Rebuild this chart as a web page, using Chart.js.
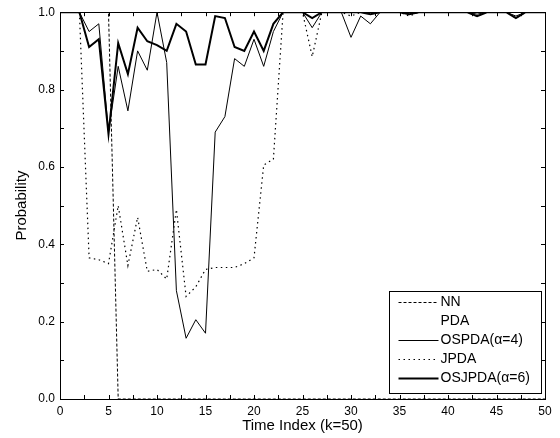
<!DOCTYPE html>
<html>
<head>
<meta charset="utf-8">
<script src="https://cdn.jsdelivr.net/npm/chart.js@4.4.1/dist/chart.umd.min.js"></script>
<style>
  html, body { margin: 0; padding: 0; background: #fff; }
  #wrap { width: 560px; height: 438px; }
</style>
</head>
<body>
<div id="wrap"><canvas id="chart" width="560" height="438"></canvas></div>
<script>
// Données (probabilité par instant k)
const timeIndex = [0,1,2,3,4,5,6,7,8,9,10,11,12,13,14,15,16,17,18,19,20,21,22,23,24,25,
  26,27,28,29,30,31,32,33,34,35,36,37,38,39,40,41,42,43,44,45,46,47,48,49,50];

const nnProb = [1,1,1,1,1,1, 0,0,0,0,0,0,0,0,0,0, 0,0,0,0,0,0,0,0,0,0,
  0,0,0,0,0,0,0,0,0,0, 0,0,0,0,0,0,0,0,0,0, 0,0,0,0,0];

const pdaProb = [];

const ospdaProb = [1,1,1,0.95,0.97,0.69,0.86,0.745,0.90,0.85,
  1.0,0.87,0.28,0.157,0.205,0.17,0.69,0.73,0.88,0.86,
  0.93,0.86,0.95,1,1,1,0.96,1,1,1,
  0.935,0.99,0.97,1,1,1,0.995,1,1,1,
  1,1,1,0.995,1,1,1,0.99,1,1,
  1];

const jpdaProb = [1,1,1,0.365,0.36,0.35,0.50,0.345,0.47,0.33,
  0.335,0.31,0.49,0.265,0.29,0.335,0.34,0.34,0.34,0.35,
  0.365,0.605,0.62,1,1,1,0.885,1,1,1,
  0.99,1,1,1,1,1,0.99,1,1,1,
  1,1,1,0.99,1,1,1,0.985,1,1,
  1];

const osjpdaProb = [1,1,1,0.91,0.93,0.685,0.92,0.84,0.96,0.925,
  0.915,0.90,0.97,0.95,0.865,0.865,0.99,0.985,0.91,0.90,
  0.95,0.90,0.97,1,1,1,0.985,1,1,1,
  1,1,0.995,1,1,1,0.995,1,1,1,
  1,1,1,0.99,1,1,1,0.985,1,1,
  1];

const seriesLabels = ['NN', 'PDA', 'OSPDA(\u03b1=4)', 'JPDA', 'OSJPDA(\u03b1=6)'];
const xTitle = 'Time Index (k=50)';
const yTitle = 'Probability';

const FONT = '"Liberation Sans", Arial, sans-serif';

function toPoints(values) {
  return values.map((v, i) => ({ x: timeIndex[i], y: v }));
}

// Légende et cadre façon MATLAB (ticks vers l'intérieur)
const boxPlugin = {
  id: 'boxPlugin',
  afterDraw(chart) {
    const ctx = chart.ctx;
    const a = chart.chartArea;
    const xs = chart.scales.x;
    const ys = chart.scales.y;
    ctx.save();
    ctx.strokeStyle = '#000';
    ctx.lineWidth = 1;
    ctx.setLineDash([]);
    ctx.strokeRect(Math.round(a.left) + 0.5, Math.round(a.top) + 0.5,
      Math.round(a.right - a.left), Math.round(a.bottom - a.top));

    const tl = 4;
    ctx.beginPath();
    xs.ticks.forEach(t => {
      const px = Math.round(xs.getPixelForValue(t.value)) + 0.5;
      ctx.moveTo(px, a.bottom); ctx.lineTo(px, a.bottom - tl);
      ctx.moveTo(px, a.top); ctx.lineTo(px, a.top + tl);
    });
    ys.ticks.forEach(t => {
      const py = Math.round(ys.getPixelForValue(t.value)) + 0.5;
      ctx.moveTo(a.left, py); ctx.lineTo(a.left + tl, py);
      ctx.moveTo(a.right, py); ctx.lineTo(a.right - tl, py);
    });
    ctx.stroke();

    // légende
    const w = 152, h = 102;
    const bx = Math.round(a.right - 4 - w) + 0.5;
    const by = Math.round(a.bottom - 6 - h) + 0.5;
    ctx.fillStyle = '#fff';
    ctx.fillRect(bx, by, w, h);
    ctx.strokeRect(bx, by, w, h);
    ctx.font = '14px ' + FONT;
    ctx.textBaseline = 'middle';
    chart.data.datasets.forEach((ds, i) => {
      const y = Math.round(by + 10 + i * 19) + 0.5;
      ctx.beginPath();
      ctx.strokeStyle = ds.borderColor;
      ctx.lineWidth = ds.borderWidth;
      ctx.setLineDash(ds.borderDash || []);
      ctx.moveTo(bx + 9, y);
      ctx.lineTo(bx + 49, y);
      ctx.stroke();
      ctx.fillStyle = '#000';
      ctx.fillText(ds.label, bx + 51, y);
    });
    ctx.restore();
  }
};

const chart = new Chart(document.getElementById('chart'), {
  type: 'line',
  data: {
    datasets: [
      { label: seriesLabels[0], data: toPoints(nnProb), borderColor: '#000', borderWidth: 1, borderDash: [3, 2] },
      { label: seriesLabels[1], data: toPoints(pdaProb), borderColor: 'rgba(0,0,0,0)', borderWidth: 1 },
      { label: seriesLabels[2], data: toPoints(ospdaProb), borderColor: '#000', borderWidth: 1 },
      { label: seriesLabels[3], data: toPoints(jpdaProb), borderColor: '#000', borderWidth: 1.2, borderDash: [1.5, 3.5] },
      { label: seriesLabels[4], data: toPoints(osjpdaProb), borderColor: '#000', borderWidth: 2 }
    ]
  },
  options: {
    responsive: false,
    animation: false,
    layout: { padding: { top: 9, right: 15, left: 0, bottom: 0 } },
    elements: {
      point: { radius: 0 },
      line: { tension: 0, fill: false }
    },
    plugins: {
      legend: { display: false },
      tooltip: { enabled: false }
    },
    scales: {
      x: {
        type: 'linear',
        min: 0,
        max: 50,
        afterFit(scale) { scale.height = 39; },
        grid: { display: false, drawTicks: false },
        border: { display: false },
        ticks: {
          stepSize: 2.5,
          autoSkip: false,
          maxRotation: 0,
          padding: 5,
          color: '#000',
          font: { family: FONT, size: 12 },
          callback: v => (v % 5 === 0 ? String(v) : '')
        },
        title: {
          display: true,
          text: xTitle,
          color: '#000',
          font: { family: FONT, size: 15 },
          padding: { top: 0, bottom: 3 }
        }
      },
      y: {
        type: 'linear',
        min: 0,
        max: 1,
        afterFit(scale) { scale.width = 60; },
        grid: { display: false, drawTicks: false },
        border: { display: false },
        ticks: {
          stepSize: 0.1,
          autoSkip: false,
          padding: 5,
          color: '#000',
          font: { family: FONT, size: 12 },
          callback: v => (Math.round(v * 10) % 2 === 0 ? v.toFixed(1) : '')
        },
        title: {
          display: true,
          text: yTitle,
          color: '#000',
          font: { family: FONT, size: 15 },
          padding: { top: 13, bottom: 0 }
        }
      }
    }
  },
  plugins: [boxPlugin]
});
</script>
</body>
</html>
